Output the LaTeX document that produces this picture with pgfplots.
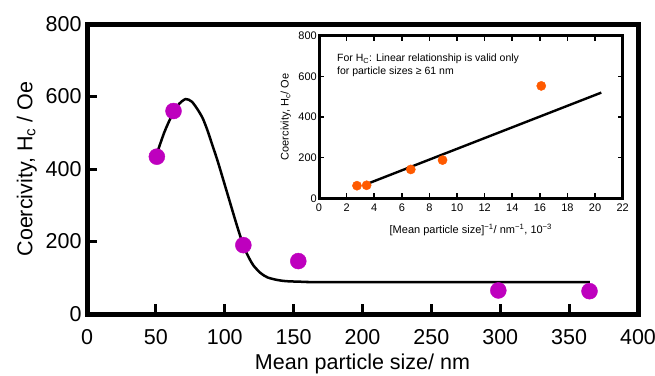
\documentclass[border=0pt]{standalone}
\usepackage{pgfplots}
\pgfplotsset{compat=1.18}
\usepackage{fontspec}
\setmainfont{Liberation Sans}
\definecolor{mag}{RGB}{190,0,190}
\definecolor{org}{RGB}{255,90,0}
\begin{document}
\begin{tikzpicture}
\path[use as bounding box] (0pt,0pt) rectangle (655pt,375pt);
\begin{axis}[at={(87pt,61pt)}, anchor=south west, width=551pt, height=290pt, scale only axis,
  xmin=0, xmax=400, ymin=0, ymax=800,
  xtick={0,50,...,400}, ytick={0,200,...,800},
  xtick pos=lower, ytick pos=left, tick align=inside, major tick length=10pt,
  axis line style={line width=5pt}, every tick/.style={line width=3pt, black},
  /pgf/number format/assume math mode=true,
  ticklabel style={font=\fontsize{21.5}{25}\selectfont},
  xticklabel style={yshift=-12pt},
  yticklabel style={xshift=-2pt},
  xlabel={Mean particle size/ nm}, ylabel={Coercivity, H\textsubscript{c} / Oe},
  label style={font=\fontsize{21.5}{25}\selectfont},
  ylabel shift=2pt, xlabel shift=2.5pt,
  clip=false]
\addplot[black, line width=2.5pt, smooth, tension=0.45] coordinates {
 (50.5,440) (56,500) (61,543) (66,576) (71.5,593) (76,586) (80,566) (84,540)
 (87.5,506) (91,466) (95,420) (102,331) (109,242) (114,184) (118,152) (121,133)
 (126,113) (131,101) (138,94) (145,90.5) (160,88.5) (175,88) (365,88)};
\addplot[only marks, mark=*, mark size=8pt, mag, mark options={draw=mag, fill=mag}] coordinates {
 (50.7,434) (62.8,560) (113.5,190) (153.4,146) (298.6,65) (364.8,63)};
\end{axis}
\begin{axis}[at={(319pt,176.7pt)}, anchor=south west, width=303.7pt, height=162.6pt, scale only axis,
  xmin=0, xmax=22, ymin=0, ymax=800,
  xtick={0,2,...,22}, ytick={0,200,...,800},
  tick pos=both, tick align=inside, major tick length=5pt,
  axis line style={line width=3pt}, every tick/.style={line width=1.6pt, black},
  /pgf/number format/assume math mode=true,
  ticklabel style={font=\fontsize{11}{13}\selectfont},
  xticklabel style={inner sep=2pt, yshift=-3pt},
  yticklabel style={inner sep=2pt},
  xlabel={[Mean particle size]\textsuperscript{−1}/ nm\textsuperscript{−1}, 10\textsuperscript{−3}},
  ylabel={Coercivity, H\textsubscript{c}/ Oe},
  label style={font=\fontsize{11}{13}\selectfont},
  xlabel shift=7pt, ylabel shift=2pt,
  clip=false]
\addplot[black, line width=2.4pt] coordinates {(3.45,70) (20.45,520)};
\addplot[only marks, mark=*, mark size=4.6pt, org, mark options={draw=org, fill=org}] coordinates {
 (2.75,62) (3.45,64) (6.65,142) (8.95,188) (16.1,553)};
\node[anchor=west, align=left, inner sep=0pt, font=\fontsize{10.5}{13}\selectfont] at (axis cs:1.3,655)
 {For H\textsubscript{C}: Linear relationship is valid only\\for particle sizes ≥ 61 nm};
\end{axis}
\end{tikzpicture}
\end{document}
